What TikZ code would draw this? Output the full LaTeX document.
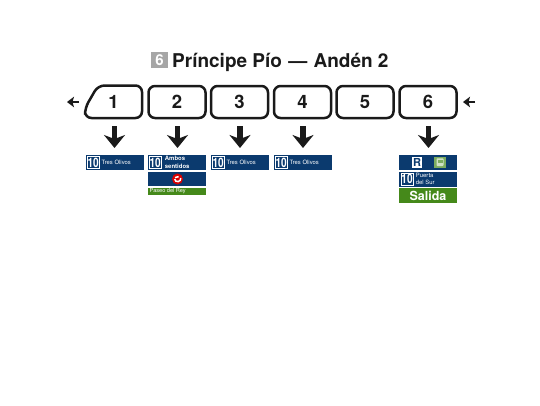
\documentclass[tikz,border=0pt]{standalone}
\usepackage{fontspec}
\setmainfont{TeX Gyre Heros}
\usetikzlibrary{arrows.meta}
\definecolor{navy}{HTML}{0B3A6E}
\definecolor{grn}{HTML}{45891A}
\definecolor{tgrey}{HTML}{A6A6A6}
\definecolor{ink}{HTML}{1A1A1A}
\newcommand{\tenmark}{\scalebox{.78}[1]{10}}
\tikzset{
  carbox/.style={draw=ink,line width=2.5pt,rounded corners=6.5pt,minimum width=57pt,minimum height=32pt,inner sep=0pt,font=\bfseries\fontsize{18.5}{18.5}\selectfont,text=ink},
  signbar/.style={fill=navy,draw=none,anchor=north west,minimum width=57.5pt,inner sep=0pt},
  greenbar/.style={fill=grn,draw=none,anchor=north west,minimum width=57.5pt,inner sep=0pt,text=white},
  linebadge/.style={draw=white,line width=.6pt,fill=navy,text=white,inner sep=0pt,minimum width=12pt,minimum height=12pt,font=\bfseries\fontsize{13}{13}\selectfont},
  dest/.style={text=white,anchor=west,inner sep=0pt,font=\fontsize{5.9}{7.4}\selectfont,align=left},
  downarrow/.style={draw=ink,line width=5.5pt,-{Stealth[width=21pt,length=13pt,inset=4pt]}},
  sidearrow/.style={draw=ink,line width=2.6pt,-{Stealth[width=10.5pt,length=7pt,inset=1.5pt]}},
}
\begin{document}
\begin{tikzpicture}[x=1pt,y=-1pt]
\useasboundingbox (0,0) rectangle (540,405);
\node[fill=tgrey,text=white,inner sep=0pt,minimum width=16.5pt,minimum height=16pt,font=\bfseries\fontsize{15}{15}\selectfont] (lineno) at (159.5,60) {6};
\node[anchor=base west,inner sep=0pt,text=ink,font=\bfseries\fontsize{19}{20}\selectfont] (title) at (172,67) {Príncipe Pío\hspace{1pt} — \hspace{1pt}Andén 2};
% cars
\draw[draw=ink,line width=2.5pt,rounded corners=6.5pt] (98,85.5) -- (142,85.5) -- (142,118) -- (85,118) -- (85,108) -- cycle;
\node[inner sep=0pt,font=\bfseries\fontsize{18.5}{18.5}\selectfont,text=ink] (c1) at (113.5,102) {1};
\node[carbox] (c2) at (177,102) {2};
\node[carbox] (c3) at (239.5,102) {3};
\node[carbox] (c4) at (302.5,102) {4};
\node[carbox] (c5) at (365,102) {5};
\node[carbox] (c6) at (428,102) {6};
% side arrows
\coordinate (la) at (79,102); \coordinate (lb) at (67,102);
\coordinate (ra) at (475,102); \coordinate (rb) at (463,102);
\draw[sidearrow] (la) -- (lb);
\draw[sidearrow] (ra) -- (rb);
% signs
\node[signbar,minimum height=15pt] (s1) at (86,155) {};
\node[signbar,minimum height=15pt] (s2) at (148,155) {};
\node[signbar,minimum height=15pt] (s3) at (211,155) {};
\node[signbar,minimum height=15pt] (s4) at (274,155) {};
\node[signbar,minimum height=14.5pt] (s6a) at (399,155) {};
\node[signbar,minimum height=14.5pt] (s2b) at (148,171.5) {};
\node[greenbar,minimum height=6.7pt] (s2c) at (148,188) {};
\node[anchor=west,inner sep=0pt,text=white,font=\fontsize{5.6}{5.6}\selectfont] (s2t) at (149.5,191.4) {Paseo del Rey};
\node[signbar,minimum height=14.5pt] (s6b) at (399,171.8) {};
\node[greenbar,minimum height=14.7pt,font=\bfseries\fontsize{12.5}{12.5}\selectfont] (s6c) at (399,188) {Salida};
\foreach \n/\x in {s1/86,s3/211,s4/274}{
  \node[linebadge] (b\n) at (\x+7.2,162.7) {\tenmark};
  \node[dest] (d\n) at (\x+15.5,162.7) {Tres Olivos};
}
\node[linebadge] (bs2) at (155.2,162.7) {\tenmark};
\node[dest,font=\bfseries\fontsize{6}{7.4}\selectfont] (ds2) at (164.7,162.5) {Ambos\\sentidos};
\node[linebadge] (bs6) at (407,179.2) {\tenmark};
\node[dest] (ds6) at (415.7,179) {Puerta\\del Sur};
\node[fill=white,inner sep=0pt,minimum width=10.5pt,minimum height=10.5pt,font=\bfseries\fontsize{11}{11}\selectfont,text=navy] (rsign) at (417,162.3) {R};
\node[fill=grn!70!white,inner sep=0pt,minimum width=11.5pt,minimum height=11pt] (bus) at (440,162.3) {};
\fill[white!75!grn,rounded corners=.8pt] (436.5,158.3) rectangle (443.5,166);
\fill[grn!70!white] (437.5,159.7) rectangle (442.5,162.5);
\node[circle,fill=red!85!black,inner sep=0pt,minimum size=11pt] (rdisc) at (177.5,179) {};
\draw[white,line width=1.5pt] (180.7,178) arc (-10:170:3.1);
\draw[white,line width=1.5pt] (175,177.6) -- (178.6,176.6);
% arrows
\draw[downarrow] (114.5,126) -- (114.5,148);
\draw[downarrow] (177.5,126) -- (177.5,148);
\draw[downarrow] (240,126) -- (240,148);
\draw[downarrow] (303,126) -- (303,148);
\draw[downarrow] (428.5,126) -- (428.5,148);
\end{tikzpicture}
\end{document}
